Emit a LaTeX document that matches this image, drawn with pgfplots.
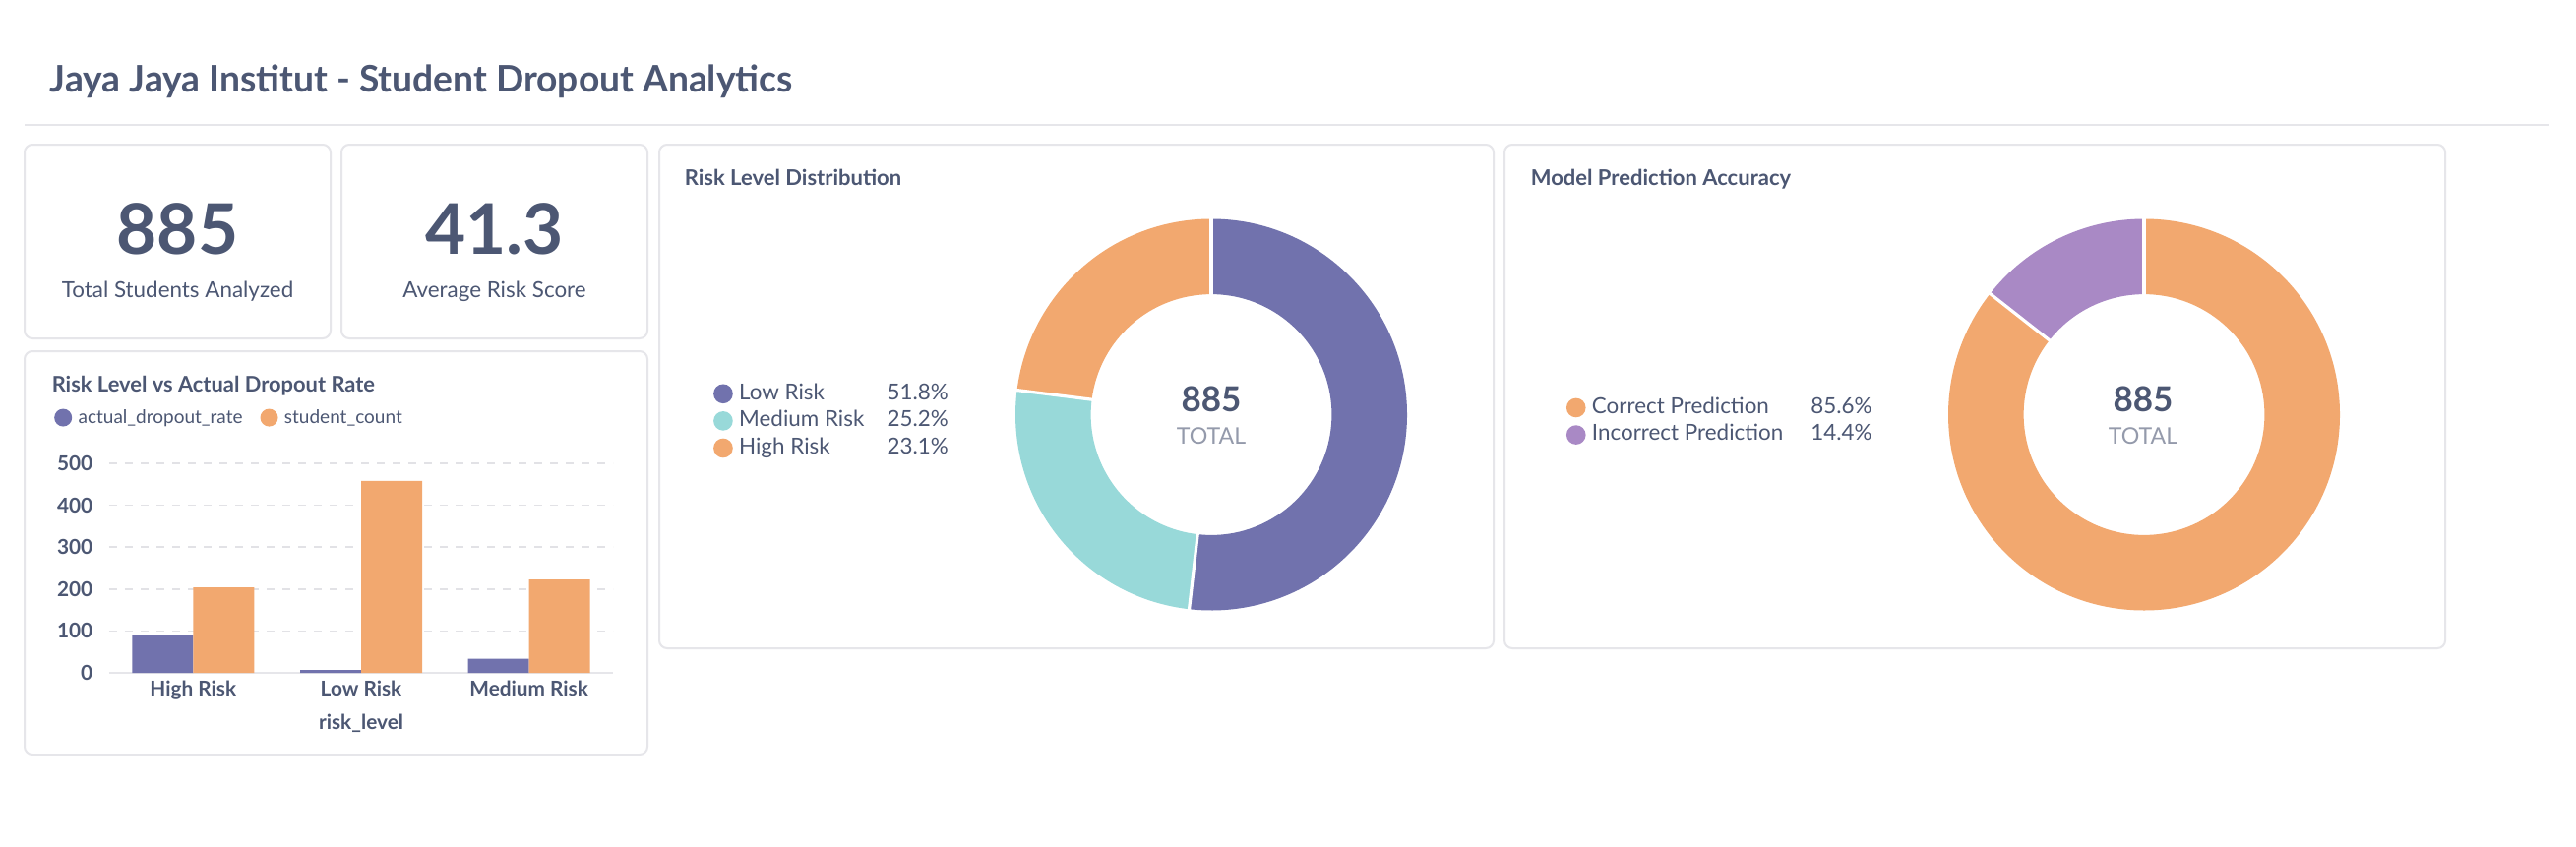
\documentclass[border=0pt]{standalone}
\usepackage{fontspec}
\setmainfont{Lato}
\usepackage{pgfplots}
\pgfplotsset{compat=1.18}
\definecolor{cpurple}{HTML}{7172AD}
\definecolor{cteal}{HTML}{98D9D9}
\definecolor{corange}{HTML}{F2A86F}
\definecolor{clav}{HTML}{A989C5}
\definecolor{tdark}{HTML}{4C5773}
\definecolor{tmed}{HTML}{949AAB}
\definecolor{cborder}{HTML}{E6E6EA}
\definecolor{cgrid}{HTML}{E2E2E6}
\newlength\Ro \setlength\Ro{49.75pt}
\newlength\Ri \setlength\Ri{30.6pt}
\newcommand\seg[3]{\fill[#3] (axis cs:{cos(#1)},{sin(#1)}) arc[start angle={#1}, end angle={#2}, radius=\Ro] -- (axis cs:{0.615*cos(#2)},{0.615*sin(#2)}) arc[start angle={#2}, end angle={#1}, radius=\Ri] -- cycle;}
\newcommand\sep[1]{\draw[white, line width=0.8pt] (axis cs:{0.6*cos(#1)},{0.6*sin(#1)}) -- (axis cs:{1.02*cos(#1)},{1.02*sin(#1)});}
\pgfplotsset{
  dotlegend/.style={
    draw=none, fill=none, inner sep=0pt, outer sep=0pt,
    font=\fontsize{5.6pt}{6.5pt}\selectfont, text=tdark,
    nodes={inner sep=0pt, text height=4.1pt, text depth=1.2pt},
    /tikz/every odd column/.append style={column sep=1.6pt},
  }
}
\begin{document}
\begin{tikzpicture}
\useasboundingbox (0,0) rectangle (654.5pt,215pt);
\begin{scope}[x=0.25pt,y=0.25pt]
  \fill[white] (0,0) rectangle (2618,860);
  \node[anchor=base west, inner sep=0pt, text=tdark, font=\fontsize{9.3pt}{11pt}\selectfont\bfseries] at (50,767) {Jaya Jaya Institut - Student Dropout Analytics};
  \draw[cborder, line width=0.5pt] (25,733) -- (2591,733);
  \tikzset{card/.style={draw=cborder, line width=0.5pt, fill=white, rounded corners=2pt}}
  \path[card] (25,516) rectangle (336,713);
  \path[card] (347,516) rectangle (658,713);
  \path[card] (25,93) rectangle (658,503);
  \path[card] (670,201) rectangle (1518,713);
  \path[card] (1529,201) rectangle (2485,713);
  % KPI cards
  \node[anchor=base, inner sep=0pt, text=tdark, font=\fontsize{17.75pt}{20pt}\selectfont\bfseries] at (180.5,602) {885};
  \node[anchor=base, inner sep=0pt, text=tdark, font=\fontsize{5.6pt}{7pt}\selectfont] at (180.5,558) {Total Students Analyzed};
  \node[anchor=base, inner sep=0pt, text=tdark, font=\fontsize{17.75pt}{20pt}\selectfont\bfseries] at (502.5,602) {41.3};
  \node[anchor=base, inner sep=0pt, text=tdark, font=\fontsize{5.6pt}{7pt}\selectfont] at (502.5,558) {Average Risk Score};
  % card titles
  \node[anchor=base west, inner sep=0pt, text=tdark, font=\fontsize{5.47pt}{6.5pt}\selectfont\bfseries] at (52,462) {Risk Level vs Actual Dropout Rate};
  \node[anchor=base west, inner sep=0pt, text=tdark, font=\fontsize{5.5pt}{6.5pt}\selectfont\bfseries] at (695,672) {Risk Level Distribution};
  \node[anchor=base west, inner sep=0pt, text=tdark, font=\fontsize{5.5pt}{6.5pt}\selectfont\bfseries] at (1555,672) {Model Prediction Accuracy};
  % donut centre texts
  \node[anchor=base, inner sep=0pt, text=tdark, font=\fontsize{8.75pt}{10pt}\selectfont\bfseries] at (1231,442) {885};
  \node[anchor=base, inner sep=0pt, text=tmed, font=\fontsize{5.8pt}{7pt}\selectfont] at (1231,409) {TOTAL};
  \node[anchor=base, inner sep=0pt, text=tdark, font=\fontsize{8.75pt}{10pt}\selectfont\bfseries] at (2178,442) {885};
  \node[anchor=base, inner sep=0pt, text=tmed, font=\fontsize{5.8pt}{7pt}\selectfont] at (2178,409) {TOTAL};
\end{scope}

% Bar chart
\begin{axis}[at={(27.75pt,44pt)}, anchor=south west, scale only axis,
  width=128pt, height=53.25pt,
  xmin=-0.5, xmax=2.5, ymin=0, ymax=500,
  ybar=0pt, bar width=15.5pt,
  xtick=data, xticklabels={High Risk,Low Risk,Medium Risk},
  ytick={100,200,300,400,500}, extra y ticks={0},
  extra y tick style={major grid style={solid, draw=cborder, line width=0.5pt}},
  ymajorgrids, major grid style={cgrid, dash pattern=on 2pt off 2pt, line width=0.4pt},
  axis line style={draw=none}, tick style={draw=none},
  /pgf/number format/assume math mode=true,
  ticklabel style={font=\fontsize{5.2pt}{6pt}\selectfont\bfseries, text=tdark, inner sep=0pt},
  yticklabel style={xshift=-4pt},
  xticklabel style={yshift=2.4pt},
  xlabel={risk\_level},
  xlabel style={font=\fontsize{5.2pt}{6pt}\selectfont\bfseries, text=tdark, at={(axis description cs:0.5,0)}, anchor=base, yshift=-14.3pt, inner sep=0pt},
  legend columns=2,
  legend style={dotlegend, font=\fontsize{4.75pt}{6pt}\selectfont, at={(rel axis cs:-0.109,1.218)}, anchor=west,
    /tikz/every even column/.append style={column sep=4.5pt}},
]
\addplot[fill=cpurple, draw=none, legend image code/.code={\fill[cpurple] (2.25pt,0pt) circle (2.25pt);}] coordinates {(0,89) (1,7) (2,34)};
\addplot[fill=corange, draw=none, legend image code/.code={\fill[corange] (2.25pt,0pt) circle (2.25pt);}] coordinates {(0,204) (1,458) (2,223)};
\legend{actual\_dropout\_rate, student\_count}
\end{axis}

% Donut 1
\begin{axis}[at={(307.75pt,109.625pt)}, anchor=center, scale only axis,
  width=99.5pt, height=99.5pt, xmin=-1, xmax=1, ymin=-1, ymax=1, hide axis, clip=false,
  legend style={dotlegend, at={(rel axis cs:-0.771,0.484)}, anchor=west, row sep=1.6pt},
]
\addlegendimage{legend image code/.code={\fill[cpurple] (2.25pt,0pt) circle (2.25pt);}}
\addlegendentry{\makebox[37.6pt][l]{Low Risk}51.8\%}
\addlegendimage{legend image code/.code={\fill[cteal] (2.25pt,0pt) circle (2.25pt);}}
\addlegendentry{\makebox[37.6pt][l]{Medium Risk}25.2\%}
\addlegendimage{legend image code/.code={\fill[corange] (2.25pt,0pt) circle (2.25pt);}}
\addlegendentry{\makebox[37.6pt][l]{High Risk}23.1\%}
\seg{90}{90-3.6*51.8}{cpurple}
\seg{90-3.6*51.8}{90-3.6*77.0}{cteal}
\seg{90-3.6*77.0}{-270}{corange}
\sep{90}
\sep{90-3.6*51.8}
\sep{90-3.6*77.0}
\end{axis}

% Donut 2
\begin{axis}[at={(544.75pt,109.625pt)}, anchor=center, scale only axis,
  width=99.5pt, height=99.5pt, xmin=-1, xmax=1, ymin=-1, ymax=1, hide axis, clip=false,
  legend style={dotlegend, at={(rel axis cs:-0.975,0.483)}, anchor=west, row sep=1.6pt},
]
\addlegendimage{legend image code/.code={\fill[corange] (2.25pt,0pt) circle (2.25pt);}}
\addlegendentry{\makebox[55.6pt][l]{Correct Prediction}85.6\%}
\addlegendimage{legend image code/.code={\fill[clav] (2.25pt,0pt) circle (2.25pt);}}
\addlegendentry{\makebox[55.6pt][l]{Incorrect Prediction}14.4\%}
\seg{90}{90-3.6*85.6}{corange}
\seg{90-3.6*85.6}{-270}{clav}
\sep{90}
\sep{90-3.6*85.6}
\end{axis}
\end{tikzpicture}
\end{document}
